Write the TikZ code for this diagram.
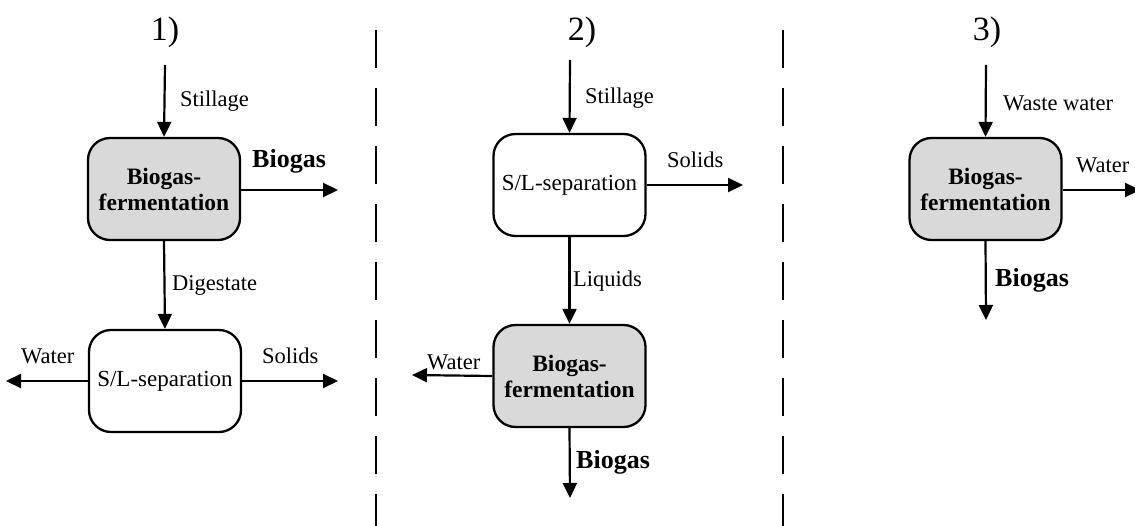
\documentclass[tikz,border=0pt]{standalone}
\usepackage{fontspec}
\setmainfont{Liberation Serif}
\usetikzlibrary{arrows.meta}
\definecolor{boxgray}{HTML}{D9D9D9}
\tikzset{
  proc/.style={draw=black, line width=2.3pt, rounded corners=22pt, minimum width=152pt, minimum height=102pt, align=center, inner sep=0pt},
  grayproc/.style={proc, fill=boxgray, font=\fontsize{23.5}{26}\selectfont\bfseries},
  whiteproc/.style={proc, fill=white, font=\fontsize{23}{26}\selectfont},
  flow/.style={line width=2.2pt, -{Triangle[length=15pt,width=14pt]}},
  lbl/.style={inner sep=0pt, anchor=west, font=\fontsize{22.5}{26}\selectfont},
  biglbl/.style={inner sep=0pt, anchor=west, font=\fontsize{26}{29}\selectfont\bfseries},
  numlbl/.style={inner sep=0pt, font=\fontsize{34}{38}\selectfont},
  divider/.style={line width=2pt, dash pattern=on 38pt off 20pt}
}
\begin{document}
\begin{tikzpicture}[x=1pt, y=-1pt]
\useasboundingbox (0,0) rectangle (1135,526);
% panel 1
\node[numlbl] (n1) at (165,32) {1)};
\node[grayproc] (p1a) at (164,189) {Biogas-\\fermentation};
\node[whiteproc] (p1b) at (165,381) {S/L-separation};
\coordinate (p1in) at (165,65);
\coordinate (p1gas) at (338,190);
\coordinate (p1water) at (6,381);
\coordinate (p1solids) at (338,381);
\draw[flow] (p1in) -- (p1a.north);
\draw[flow] (p1a.east |- p1gas) -- (p1gas);
\draw[flow] (p1a.south) -- (p1b.north);
\draw[flow] (p1b.west) -- (p1water);
\draw[flow] (p1b.east) -- (p1solids);
\node[lbl] (l1still) at (180,101) {Stillage};
\node[biglbl] (l1gas) at (252,161) {Biogas};
\node[lbl] (l1dig) at (172,285) {Digestate};
\node[lbl] (l1water) at (21,356) {Water};
\node[lbl] (l1solids) at (262,356) {Solids};
% divider 1
\coordinate (d1t) at (376,30);
\coordinate (d1b) at (376,526);
\draw[divider] (d1t) -- (d1b);
% panel 2
\node[numlbl] (n2) at (582,32) {2)};
\node[whiteproc] (p2a) at (569.5,185) {S/L-separation};
\node[grayproc] (p2b) at (569.5,376) {Biogas-\\fermentation};
\coordinate (p2in) at (570,60);
\coordinate (p2solids) at (743,185);
\coordinate (p2water) at (412,375);
\coordinate (p2gas) at (570,498);
\draw[flow] (p2in) -- (p2a.north);
\draw[flow] (p2a.east) -- (p2solids);
\draw[flow] (p2a.south) -- (p2b.north);
\draw[flow] (p2b.west) -- (p2water);
\draw[flow] (p2b.south) -- (p2gas);
\node[lbl] (l2still) at (585,98) {Stillage};
\node[lbl] (l2solids) at (667,160) {Solids};
\node[lbl] (l2liq) at (573,281) {Liquids};
\node[lbl] (l2water) at (427,362) {Water};
\node[biglbl] (l2gas) at (576,462) {Biogas};
% divider 2
\coordinate (d2t) at (783,30);
\coordinate (d2b) at (783,526);
\draw[divider] (d2t) -- (d2b);
% panel 3
\node[numlbl] (n3) at (987,32) {3)};
\node[grayproc] (p3a) at (985.5,189) {Biogas-\\fermentation};
\coordinate (p3in) at (986,65);
\coordinate (p3water) at (1140,190);
\coordinate (p3gas) at (986,320);
\draw[flow] (p3in) -- (p3a.north);
\draw[flow] (p3a.east |- p3water) -- (p3water);
\draw[flow] (p3a.south) -- (p3gas);
\node[lbl] (l3waste) at (1003,103) {Waste water};
\node[lbl] (l3water) at (1076,165) {Water};
\node[biglbl] (l3gas) at (995,280) {Biogas};
\end{tikzpicture}
\end{document}
